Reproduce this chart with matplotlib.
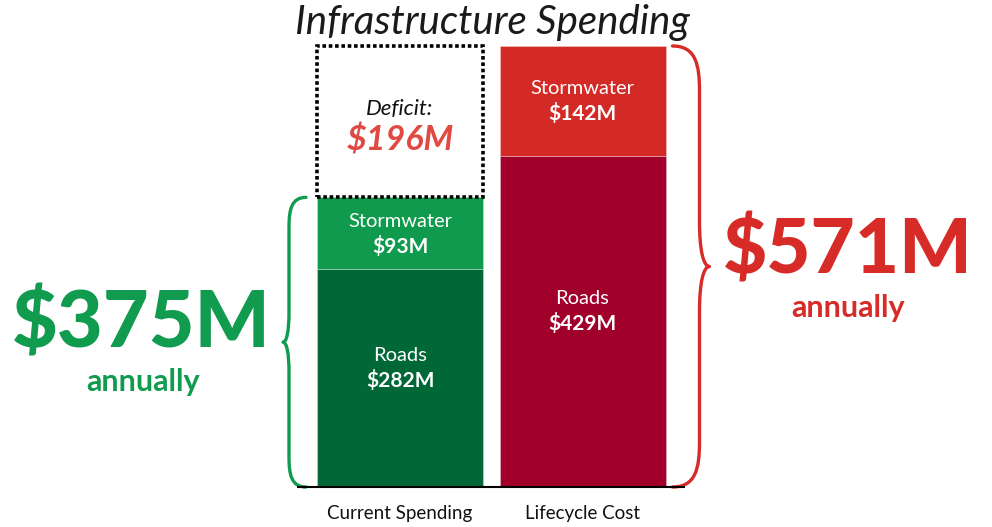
import matplotlib.pyplot as plt
from matplotlib.path import Path
from matplotlib.patches import PathPatch

plt.rcParams['font.family'] = ['Lato', 'DejaVu Sans']

# data ($M per year)
categories = ['Current Spending', 'Lifecycle Cost']
roads = [282, 429]
stormwater = [93, 142]
deficit = 196
totals = [r + s for r, s in zip(roads, stormwater)]

roads_colors = ['#006837', '#a0002a']
storm_colors = ['#0f9a4d', '#d42a26']
green = '#119b4f'
red = '#d62b27'
deficit_red = '#e04a42'

W, H = 992, 527
fig = plt.figure(figsize=(W / 100, H / 100), dpi=100)
ax = fig.add_axes([0, 0, 1, 1])

# scales: baseline at 487px, the tallest stack reaches 46px; bars 182.5px apart
base_px, top_px = 487, 46
upp = max(totals) / (base_px - top_px)      # value units per pixel
step, c0 = 182.5, 400
upx = 1 / step                              # x units per pixel
ax.set_ylim(-(H - base_px) * upp, max(totals) + top_px * upp)
ax.set_xlim(-c0 * upx, (W - c0) * upx)
ax.axis('off')

x = [0, 1]
bw = 166 * upx
ax.bar(x, roads, width=bw, color=roads_colors, edgecolor='#ffffff55', linewidth=0.6)
ax.bar(x, stormwater, bottom=roads, width=bw, color=storm_colors,
       edgecolor='#ffffff55', linewidth=0.6)
ax.bar(x[0], deficit, bottom=totals[0], width=bw, fill=False, edgecolor='black',
       linewidth=2.6, linestyle=(0, (1, 0.75)), capstyle='butt')

# baseline
ax.hlines(0, x[0] - bw / 2 - 20 * upx, x[1] + bw / 2 + 19 * upx, color='black', lw=1.5)


def brace(xs, y0, y1, hook, depth, r_px, color):
    r = r_px * upp
    ym = (y0 + y1) / 2
    verts = [
        (xs + hook, y1),
        (xs + hook * 0.15, y1), (xs, y1 - r * 0.4), (xs, y1 - r),
        (xs, ym + r),
        (xs, ym + r * 0.35), (xs + depth * 0.4, ym), (xs + depth, ym),
        (xs + depth * 0.4, ym), (xs, ym - r * 0.35), (xs, ym - r),
        (xs, y0 + r),
        (xs, y0 + r * 0.4), (xs + hook * 0.15, y0), (xs + hook, y0),
    ]
    codes = [Path.MOVETO] + [Path.CURVE4] * 3 + [Path.LINETO] + [Path.CURVE4] * 6 \
        + [Path.LINETO] + [Path.CURVE4] * 3
    ax.add_patch(PathPatch(Path(verts, codes), fill=False, edgecolor=color, lw=2.4,
                           capstyle='round', joinstyle='round'))
    return ym


left_edge = x[0] - bw / 2
right_edge = x[1] + bw / 2
ym_l = brace(left_edge - 28 * upx, 0, totals[0], 17 * upx, -6 * upx, 30, green)
ym_r = brace(right_edge + 34 * upx, 0, totals[1], -27 * upx, 10 * upx, 45, red)

# totals next to the braces
ax.text(141 * upx - c0 * upx, ym_l + 18 * upp, f'${totals[0]}M', color=green,
        fontsize=57, fontweight='black', ha='center', va='center')
ax.text(143 * upx - c0 * upx, ym_l - 40 * upp, 'annually', color=green,
        fontsize=22, fontweight='bold', ha='center', va='center')
ax.text(848 * upx - c0 * upx, ym_r + 16 * upp, f'${totals[1]}M', color=red,
        fontsize=55, fontweight='black', ha='center', va='center')
ax.text(848 * upx - c0 * upx, ym_r - 41 * upp, 'annually', color=red,
        fontsize=22, fontweight='bold', ha='center', va='center')

# segment labels
for i in range(2):
    sm = roads[i] + stormwater[i] / 2
    ax.text(x[i], sm + 12 * upp, 'Stormwater', color='white', fontsize=14.5,
            ha='center', va='center')
    ax.text(x[i], sm - 13 * upp, f'${stormwater[i]}M', color='white', fontsize=15,
            fontweight='bold', ha='center', va='center')
    rm = roads[i] / 2 + 11 * upp
    ax.text(x[i], rm + 12 * upp, 'Roads', color='white', fontsize=14.5,
            ha='center', va='center')
    ax.text(x[i], rm - 13 * upp, f'${roads[i]}M', color='white', fontsize=15,
            fontweight='bold', ha='center', va='center')

dm = totals[0] + deficit / 2 - 3 * upp
ax.text(x[0], dm + 16 * upp, 'Deficit:', color='#111111', fontsize=16,
        style='italic', ha='center', va='center')
ax.text(x[0], dm - 16 * upp, f'${deficit}M', color=deficit_red, fontsize=24.5,
        style='italic', fontweight='bold', ha='center', va='center')

for i, c in enumerate(categories):
    ax.text(x[i], -26 * upp, c, color='#111111', fontsize=13.5, ha='center', va='center')

ax.text(492 * upx - c0 * upx, max(totals) + 24 * upp, 'Infrastructure Spending',
        color='#1a1a1a', fontsize=29, style='italic', ha='center', va='center')

fig.savefig('out.png', dpi=100)
